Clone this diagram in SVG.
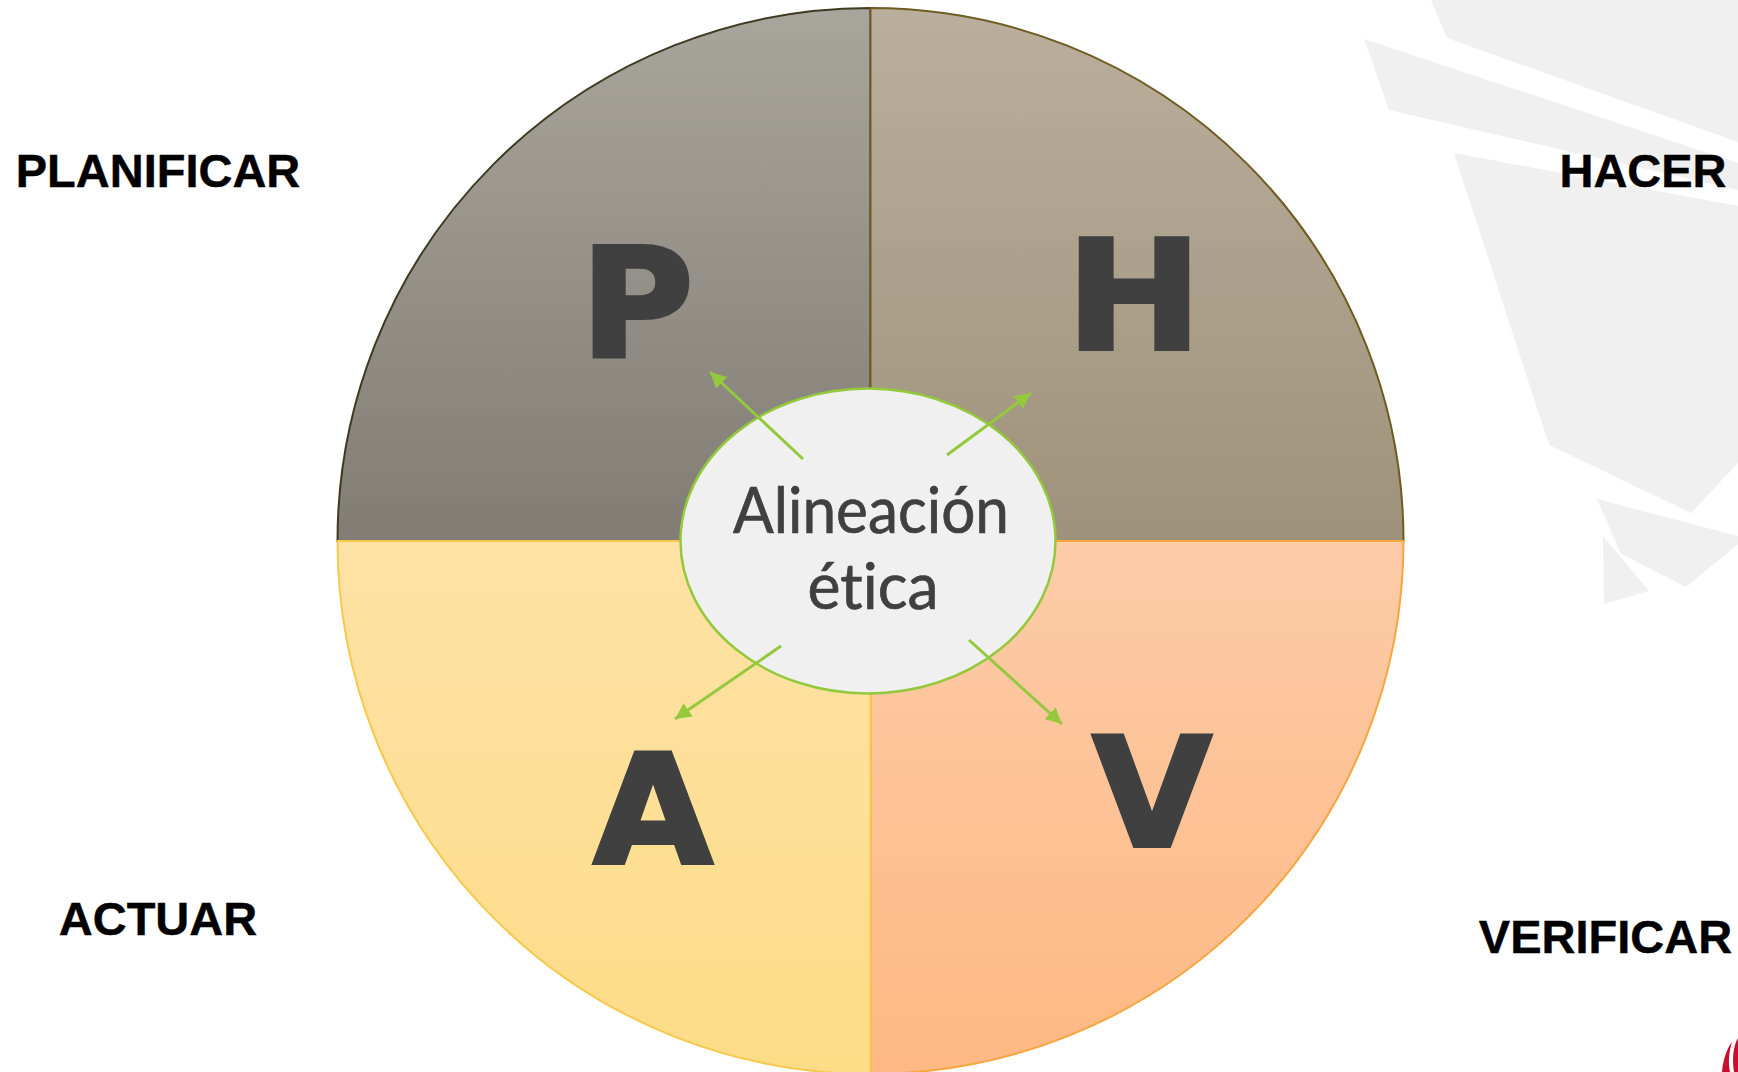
<svg xmlns="http://www.w3.org/2000/svg" width="1738" height="1072" viewBox="0 0 1738 1072">
<style>
.bg{fill:#f0f0f0}
.label{font-family:"Liberation Sans",Arial,sans-serif;font-weight:700;font-size:47px;fill:#000;stroke:#000;stroke-width:.4;text-anchor:middle}
.big{font-family:"DejaVu Sans",sans-serif;font-weight:700;font-size:151px;fill:#404040;stroke:#404040;stroke-width:4;stroke-linejoin:miter;text-anchor:middle}
.mid{font-family:"Lato",sans-serif;font-size:64px;fill:#404040;stroke:#404040;stroke-width:.7;text-anchor:middle;font-variant-ligatures:none}
.arrow{stroke:#94c83d;stroke-width:3;fill:none;marker-end:url(#head)}
</style>
<defs>
<linearGradient id="gp" gradientUnits="userSpaceOnUse" x1="0" y1="8" x2="0" y2="541"><stop offset="0" stop-color="#a8a59d"/><stop offset="1" stop-color="#817d74"/></linearGradient>
<linearGradient id="gh" gradientUnits="userSpaceOnUse" x1="0" y1="8" x2="0" y2="541"><stop offset="0" stop-color="#b9af9c"/><stop offset="1" stop-color="#9e927a"/></linearGradient>
<linearGradient id="ga" gradientUnits="userSpaceOnUse" x1="0" y1="541" x2="0" y2="1074"><stop offset="0" stop-color="#fde2a5"/><stop offset="1" stop-color="#fddc87"/></linearGradient>
<linearGradient id="gv" gradientUnits="userSpaceOnUse" x1="0" y1="541" x2="0" y2="1074"><stop offset="0" stop-color="#fdcca8"/><stop offset="1" stop-color="#fdb883"/></linearGradient>
<marker id="head" markerUnits="userSpaceOnUse" markerWidth="18" markerHeight="16" refX="16" refY="8" orient="auto"><path d="M0 0L16 8L0 16Z" fill="#94c83d"/></marker>
</defs>
<g id="background">
<path class="bg" d="M1431 0L1447 38L1738 142V0Z"/>
<path class="bg" d="M1364 39L1389 110L1738 190V163Z"/>
<path class="bg" d="M1454 153L1738 206V463L1691 513L1549 445Z"/>
<path class="bg" d="M1597 499L1738 536V544L1686 587L1621 554Z"/>
<path class="bg" d="M1603 536L1649 591L1604 604Z"/>
<path d="M1722 1072C1723 1060 1727 1048 1732 1042C1729 1052 1728 1062 1730 1072Z" fill="#c8102e"/>
<path d="M1734 1072C1732 1060 1733 1046 1738 1038V1072Z" fill="#c8102e"/>
</g>
<g id="node-p">
<path d="M870.5 541H337.5A533 533 0 0 1 870.5 8Z" fill="url(#gp)" stroke="#3f3a22" stroke-width="2"/>
<text class="big" x="637" y="356" textLength="113" lengthAdjust="spacingAndGlyphs">P</text>
</g>
<g id="node-h">
<path d="M870.5 541V8A533 533 0 0 1 1403.5 541Z" fill="url(#gh)" stroke="#6e5c22" stroke-width="2"/>
<text class="big" x="1134" y="349" textLength="136" lengthAdjust="spacingAndGlyphs">H</text>
</g>
<g id="node-v">
<path d="M870.5 541H1403.5A533 533 0 0 1 870.5 1074Z" fill="url(#gv)" stroke="#f7a53f" stroke-width="2"/>
<text class="big" x="1152" y="846" textLength="119" lengthAdjust="spacingAndGlyphs">V</text>
</g>
<g id="node-a">
<path d="M870.5 541V1074A533 533 0 0 1 337.5 541Z" fill="url(#ga)" stroke="#f6c84c" stroke-width="2"/>
<text class="big" x="653" y="863" textLength="119" lengthAdjust="spacingAndGlyphs">A</text>
</g>
<g id="node-center">
<ellipse cx="868" cy="541" rx="187.5" ry="152.5" fill="#f0f0f0" stroke="#94c83d" stroke-width="2.5"/>
<text class="mid" x="871" y="533" textLength="276" lengthAdjust="spacingAndGlyphs">Alineación</text>
<text class="mid" x="873" y="609" textLength="131" lengthAdjust="spacingAndGlyphs">ética</text>
</g>
<g id="connectors">
<line class="arrow" x1="803" y1="459" x2="710" y2="372"/>
<line class="arrow" x1="947" y1="455" x2="1031" y2="393"/>
<line class="arrow" x1="781" y1="646" x2="675" y2="719"/>
<line class="arrow" x1="969" y1="640" x2="1062" y2="724"/>
</g>
<g id="labels">
<text class="label" x="158" y="187">PLANIFICAR</text>
<text class="label" x="1643" y="187">HACER</text>
<text class="label" x="158" y="935">ACTUAR</text>
<text class="label" x="1605.5" y="953">VERIFICAR</text>
</g>
</svg>
